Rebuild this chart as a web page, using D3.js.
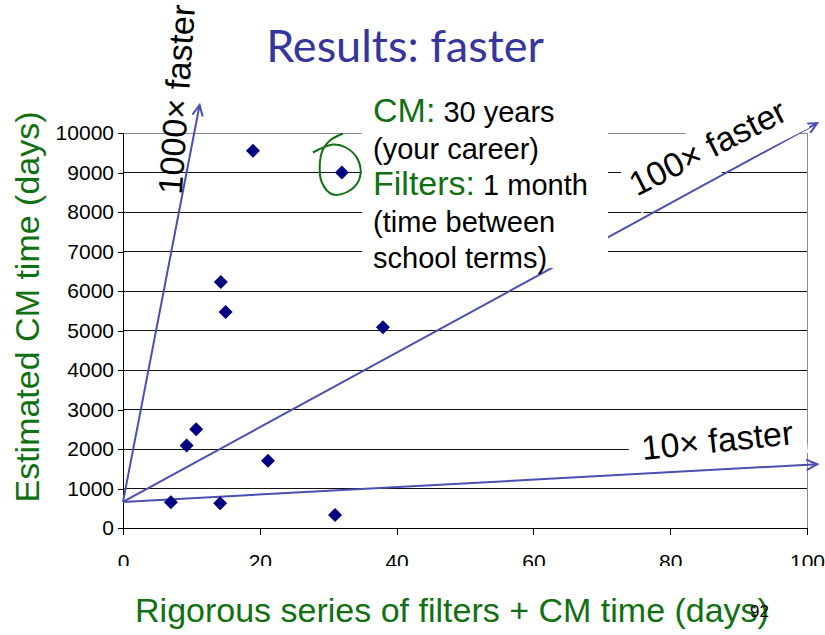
<!DOCTYPE html>
<html>
<head>
<meta charset="utf-8">
<script src="https://cdn.jsdelivr.net/npm/d3@7"></script>
<style>
  body { margin: 0; background: #fff; }
  svg { display: block; font-family: "Liberation Sans", Arial, sans-serif; }
</style>
</head>
<body>
<script>
// filters + CM time (days) vs estimated CM-only time (days)
const filterDays = [19, 32, 14.3, 15, 38, 10.7, 9.3, 21.2, 7, 14.2, 31]
const cmDays = [9550, 9000, 6230, 5470, 5080, 2500, 2090, 1700, 650, 625, 330]

const xTicks = [0, 20, 40, 60, 80, 100]
const yTicks = [0, 1000, 2000, 3000, 4000, 5000, 6000, 7000, 8000, 9000, 10000]

// speed-up guide arrows, drawn from a common origin
const guideOrigin = [0, 660]
const guideEnds = [[11.2, 10710], [101.5, 10250], [101.5, 1615]]
const guideLabels = ["1000\u00d7 faster", "100\u00d7 faster", "10\u00d7 faster"]
const guideLabelAt = [[8.6, 8430], [75.1, 8387], [76, 1722]]
const guideLabelAngle = [-86, -27, -6]
// white box behind label: [left, top, right, bottom] padding, null = no box
const guideLabelBox = [null, [3, 34, 14, 17], [13, 30, 13, 10]]

const noteLines = [
    [["CM:", true], [" 30 years", false]],
    [["(your career)", false]],
    [["Filters:", true], [" 1 month", false]],
    [["(time between", false]],
    [["school terms)", false]]
]

const width = 825, height = 635
const green = "#107012", blue = "#4a4fb0", navy = "#000080"

const svg = d3.select("body").append("svg")
    .attr("width", width)
    .attr("height", height)

const x = d3.scaleLinear().domain([0, 100]).range([123, 807])
const y = d3.scaleLinear().domain([0, 10000]).range([528, 133])

// title
svg.append("text")
    .attr("x", 405).attr("y", 62)
    .attr("text-anchor", "middle")
    .style("font-family", "Lato, 'Open Sans', sans-serif")
    .style("font-size", "45px")
    .style("fill", "#35359d")
    .text("Results: faster")

// grid
svg.append("g")
    .selectAll("line")
    .data(yTicks.filter(d => d > 0))
    .join("line")
    .attr("x1", x(0)).attr("x2", x(100))
    .attr("y1", d => y(d)).attr("y2", d => y(d))
    .attr("stroke", d => d === 10000 ? "#8a8a8a" : "#111")
    .attr("shape-rendering", "crispEdges")

// right border of plot area
svg.append("line")
    .attr("x1", x(100)).attr("x2", x(100))
    .attr("y1", y(10000)).attr("y2", y(0))
    .attr("stroke", "#8a8a8a")
    .attr("shape-rendering", "crispEdges")

// axes
const yAxis = svg.append("g")
    .attr("transform", `translate(${x(0)},0)`)
    .call(d3.axisLeft(y).tickValues(yTicks).tickSize(5).tickPadding(4).tickFormat(d3.format("d")))
yAxis.selectAll("text").style("font-size", "21px").style("fill", "#000")
yAxis.selectAll("line,path").attr("stroke", "#000").attr("shape-rendering", "crispEdges")

// x tick labels are cut off at the bottom in the original slide
svg.append("clipPath").attr("id", "tickclip")
    .append("rect").attr("x", 0).attr("y", 0).attr("width", width).attr("height", 566)

const xAxis = svg.append("g")
    .attr("clip-path", "url(#tickclip)")
    .append("g")
    .attr("transform", `translate(0,${y(0)})`)
    .call(d3.axisBottom(x).tickValues(xTicks).tickSize(7).tickPadding(19).tickSizeOuter(0))
xAxis.selectAll("text").style("font-size", "21px").style("fill", "#000")
xAxis.selectAll("line,path").attr("stroke", "#000").attr("shape-rendering", "crispEdges")

// guide arrows
const guides = svg.append("g")
guideEnds.forEach(end => {
    const x0 = x(guideOrigin[0]), y0 = y(guideOrigin[1])
    const x1 = x(end[0]), y1 = y(end[1])
    const ang = Math.atan2(y1 - y0, x1 - x0)
    const len = 12, spread = 0.45
    guides.append("line")
        .attr("x1", x0).attr("y1", y0).attr("x2", x1).attr("y2", y1)
        .attr("stroke", blue).attr("stroke-width", 2)
    guides.append("path")
        .attr("d", `M${x1 - len * Math.cos(ang - spread)},${y1 - len * Math.sin(ang - spread)}` +
            `L${x1},${y1}` +
            `L${x1 - len * Math.cos(ang + spread)},${y1 - len * Math.sin(ang + spread)}`)
        .attr("fill", "none").attr("stroke", blue).attr("stroke-width", 2)
})

// guide labels
guideLabels.forEach((label, i) => {
    const g = svg.append("g")
        .attr("transform", `translate(${x(guideLabelAt[i][0])},${y(guideLabelAt[i][1])}) rotate(${guideLabelAngle[i]})`)
    const t = g.append("text")
        .style("font-size", "34px")
        .style("fill", "#000")
        .text(label)
    const pad = guideLabelBox[i]
    if (pad) {
        const w = t.node().getComputedTextLength()
        g.insert("rect", "text")
            .attr("x", -pad[0]).attr("y", -pad[1])
            .attr("width", w + pad[0] + pad[2]).attr("height", pad[1] + pad[3])
            .attr("fill", "#fff")
    }
})

// note box
const note = svg.append("g").attr("transform", "translate(373,122)")
note.append("rect")
    .attr("x", -11).attr("y", -32)
    .attr("width", 246).attr("height", 178)
    .attr("fill", "#fff")
noteLines.forEach((parts, i) => {
    const t = note.append("text").attr("x", 0).attr("y", i * 36.5)
    parts.forEach(([s, isGreen]) => {
        t.append("tspan")
            .style("font-size", isGreen ? "34px" : "29px")
            .style("fill", isGreen ? green : "#000")
            .text(s)
    })
})

// points
svg.append("g")
    .selectAll("path")
    .data(filterDays.map((d, i) => [d, cmDays[i]]))
    .join("path")
    .attr("d", d3.symbol(d3.symbolSquare, 98))
    .attr("transform", d => `translate(${x(d[0])},${y(d[1])}) rotate(45)`)
    .attr("fill", navy)

// hand-drawn circle around the 30-year point
const cx = x(filterDays[1]), cy = y(cmDays[1])
const scribble = [[1, -39], [-12, -32], [-19, -23], [-22, -10], [-20, 10], [-9, 22], [8, 18],
    [18, 5], [16, -13], [4, -25], [-9, -28], [-29, -20]]
svg.append("path")
    .attr("d", d3.line().curve(d3.curveCatmullRom)(scribble.map(p => [cx + p[0], cy + p[1]])))
    .attr("fill", "none")
    .attr("stroke", green)
    .attr("stroke-width", 2)

// axis titles
svg.append("text")
    .attr("transform", "translate(39,307) rotate(-90)")
    .attr("text-anchor", "middle")
    .style("font-size", "34px")
    .style("fill", green)
    .text("Estimated CM time (days)")

svg.append("text")
    .attr("x", 452).attr("y", 622)
    .attr("text-anchor", "middle")
    .style("font-size", "34px")
    .style("fill", green)
    .text("Rigorous series of filters + CM time (days)")

// slide number
svg.append("text")
    .attr("x", 750).attr("y", 617)
    .style("font-size", "17px")
    .style("fill", "#000")
    .text("92")
</script>
</body>
</html>
